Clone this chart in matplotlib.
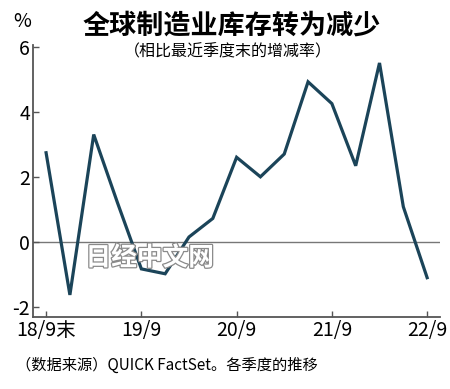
import matplotlib
matplotlib.use("Agg")
import matplotlib.pyplot as plt
import matplotlib.patheffects as pe

# 数据（按季度，18/9末 ~ 22/9）
quarters = ["18/9", "18/12", "19/3", "19/6", "19/9", "19/12", "20/3", "20/6", "20/9",
            "20/12", "21/3", "21/6", "21/9", "21/12", "22/3", "22/6", "22/9"]
values = [2.74, -1.63, 3.3, 1.2, -0.83, -0.98, 0.15, 0.72, 2.6,
          2.0, 2.7, 4.92, 4.25, 2.34, 5.5, 1.08, -1.1]
tick_pos = [0, 4, 8, 12, 16]
tick_labels = ["18/9末", "19/9", "20/9", "21/9", "22/9"]
yticks = [-2, 0, 2, 4, 6]

cjk = ["Noto Sans CJK SC", "DejaVu Sans"]

fig = plt.figure(figsize=(4.5, 3.89), dpi=100)
ax = fig.add_axes([0.0733, 0.185, 0.905, 0.70])

x = list(range(len(values)))
ax.axhline(0, color="#777777", lw=1.0, zorder=1)
ax.plot(x, values, color="#1b4459", lw=2.3, solid_joinstyle="miter", zorder=3)

ax.set_xlim(-0.55, 16.55)
ax.set_ylim(-2.31, 6.06)
ax.set_xticks(tick_pos)
ax.set_xticklabels(tick_labels, family=cjk, fontsize=14)
ax.set_yticks(yticks)
ax.set_yticklabels([str(v) for v in yticks], family=cjk, fontsize=14)
ax.tick_params(direction="in", length=4, width=1, color="#555555", pad=2)

for s in ["top", "right"]:
    ax.spines[s].set_visible(False)
for s in ["left", "bottom"]:
    ax.spines[s].set_color("#555555")
    ax.spines[s].set_linewidth(1.3)

fig.text(0.515, 0.935, "全球制造业库存转为减少", family=cjk, fontsize=19.5,
         fontweight="bold", ha="center", va="center")
fig.text(0.507, 0.866, "（相比最近季度末的增减率）", family=cjk, fontsize=11.5,
         ha="center", va="center")
fig.text(0.05, 0.945, "%", family=cjk, fontsize=14, ha="center", va="center")
fig.text(0.035, 0.062, "（数据来源）QUICK FactSet。各季度的推移", family=cjk,
         fontsize=11, ha="left", va="center")

# 水印
fig.text(0.333, 0.337, "日经中文网", family=cjk, fontsize=18.5, color="white",
         fontweight="bold", ha="center", va="center", zorder=5,
         path_effects=[pe.withStroke(linewidth=1.8, foreground="#8a8a8a")])

fig.savefig("out.png", dpi=100)
